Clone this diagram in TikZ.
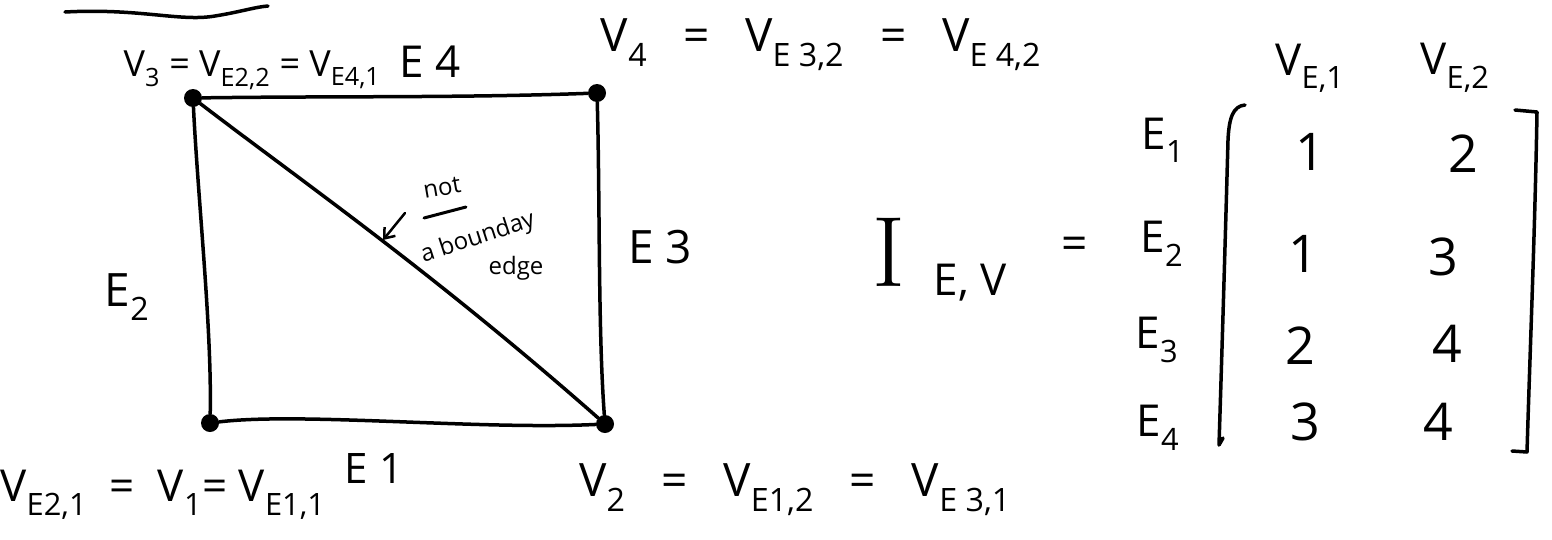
\documentclass[tikz,border=0pt]{standalone}
\usepackage{fontspec}
\setmainfont{Open Sans}
\newfontfamily\serifI{Latin Modern Roman}
\usetikzlibrary{arrows.meta}
\newcommand{\sbx}[1]{\textsubscript{#1}}
\tikzset{
  ink/.style={line width=3.5pt, line cap=round, line join=round},
  vtx/.style={circle, fill=black, inner sep=0pt, minimum size=18pt},
  lab/.style={inner sep=0pt, font=\fontsize{36}{40}\selectfont},
  biglab/.style={inner sep=0pt, font=\fontsize{46}{50}\selectfont},
  rowlab/.style={inner sep=0pt, font=\fontsize{44}{48}\selectfont},
  ent/.style={inner sep=0pt, font=\fontsize{52}{56}\selectfont},
  note/.style={inner sep=0pt, font=\fontsize{24}{27}\selectfont},
}
\begin{document}
\begin{tikzpicture}[x=1pt,y=-1pt]
\useasboundingbox (0,0) rectangle (1552,539);
% top wavy stroke
\draw[ink] (65,12) .. controls (140,8) and (180,22) .. (215,16) .. controls (240,12) and (255,7) .. (268,6);
% vertices
\node[vtx] (v3) at (193,98) {};
\node[vtx] (v4) at (597,93) {};
\node[vtx] (v1) at (210,423) {};
\node[vtx] (v2) at (605,424) {};
% edges
\draw[ink] (v3) .. controls (330,96) and (460,98) .. (v4);
\draw[ink] (v3) .. controls (198,200) and (212,330) .. (v1);
\draw[ink] (v4) .. controls (600,200) and (598,330) .. (v2);
\draw[ink] (v1) .. controls (300,412) and (480,430) .. (v2);
\draw[ink] (v3) .. controls (300,180) and (430,270) .. (v2);
% vertex labels
\node[lab] (l3) at (252,70) {V\sbx{3} = V\sbx{E2,2} = V\sbx{E4,1}};
\node[biglab, font=\fontsize{44}{48}\selectfont] (e4) at (430,62) {E 4};
\node[biglab] (l4) at (821,45) {V\sbx{4} ~~=~~ V\sbx{E 3,2} ~~=~~ V\sbx{E 4,2}};
\node[biglab] (e2) at (127,297) {E\sbx{2}};
\node[biglab] (e3) at (660,247) {E 3};
\node[biglab, font=\fontsize{42}{46}\selectfont] (e1) at (374,468) {E 1};
\node[biglab, font=\fontsize{44}{48}\selectfont] (l1) at (163,495) {V\sbx{E2,1} ~=~ V\sbx{1}= V\sbx{E1,1}};
\node[biglab] (l2) at (795,490) {V\sbx{2} ~~=~~ V\sbx{E1,2} ~~=~~ V\sbx{E 3,1}};
% note
\node[note, rotate=10] (not) at (442,188) {not};
\draw[ink, line width=3pt] (424,218) -- (466,207);
\node[note, rotate=18] (bd) at (478,238) {a bounday};
\node[note] (edge) at (516,268) {edge};
\coordinate (aS) at (405,213);
\coordinate (aE) at (383,240);
\draw[ink, line width=2.5pt, -{Straight Barb[length=9pt,width=14pt]}] (aS) -- (aE);
% matrix
\node[inner sep=0pt, font=\serifI\fontsize{100}{104}\selectfont] (I) at (889,252) {I};
\node[rowlab] (Isub) at (970,283) {E, V};
\node[biglab] (eq) at (1075,248) {=};
\node[rowlab] (c1) at (1310,68) {V\sbx{E,1}};
\node[rowlab] (c2) at (1455,68) {V\sbx{E,2}};
\node[rowlab] (r1) at (1163,140) {E\sbx{1}};
\node[rowlab] (r2) at (1162,244) {E\sbx{2}};
\node[rowlab] (r3) at (1157,340) {E\sbx{3}};
\node[rowlab] (r4) at (1158,428) {E\sbx{4}};
\node[ent] (m11) at (1310,152) {1};
\node[ent] (m12) at (1463,154) {2};
\node[ent] (m21) at (1303,254) {1};
\node[ent] (m22) at (1443,257) {3};
\node[ent] (m31) at (1300,346) {2};
\node[ent] (m32) at (1447,344) {4};
\node[ent] (m41) at (1305,422) {3};
\node[ent] (m42) at (1438,422) {4};
% brackets
\draw[ink] (1245,105) .. controls (1233,106) and (1229,118) .. (1228,140) .. controls (1225,250) and (1222,350) .. (1219,445) -- (1223,438);
\draw[ink] (1515,110) -- (1537,112) .. controls (1535,230) and (1530,350) .. (1527,452) -- (1512,451);
\end{tikzpicture}
\end{document}
